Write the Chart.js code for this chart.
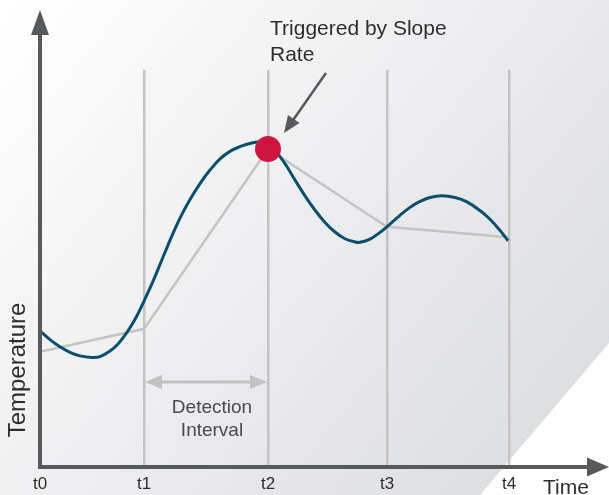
<!DOCTYPE html>
<html>
<head>
<meta charset="utf-8">
<script src="https://cdn.jsdelivr.net/npm/chart.js@4/dist/chart.umd.min.js"></script>
<style>
  html, body { margin: 0; padding: 0; background: #fff; }
  #wrap { width: 609px; height: 495px; }
</style>
</head>
<body>
<div id="wrap"><canvas id="myChart"></canvas></div>
<script>
// time positions of the sample ticks (t0..t4)
var tickTimes = [0, 1.04, 2.28, 3.47, 4.69];
var tickLabels = ['t0', 't1', 't2', 't3', 't4'];

// the real temperature curve
var curveTime = [0, 0.1, 0.2, 0.3, 0.4, 0.52, 0.6, 0.7, 0.78, 0.85, 0.92, 0.98, 1.04, 1.12, 1.2, 1.28, 1.35, 1.42, 1.5, 1.6, 1.7, 1.8, 1.9, 2.0, 2.1, 2.22,
  2.28, 2.35, 2.45, 2.55, 2.65, 2.75, 2.85, 2.95, 3.05, 3.15, 3.2, 3.3, 3.4, 3.5, 3.6, 3.7, 3.8, 3.9, 4.02, 4.15, 4.27, 4.4, 4.5, 4.6, 4.68];
var curveTemp = [34.3, 32.1, 30.3, 28.9, 28.0, 27.6, 27.8, 29.2, 31.0, 33.2, 35.9, 38.6, 41.8, 46.2, 51.0, 55.9, 60.0, 63.7, 67.4, 71.4, 74.8, 77.6, 79.5, 80.7, 81.5, 81.9,
  81.3, 79.8, 76.4, 72.3, 68.3, 64.7, 61.6, 59.2, 57.5, 56.7, 56.6, 57.4, 59.1, 61.2, 63.4, 65.4, 66.9, 67.9, 68.3, 67.9, 66.8, 64.6, 62.4, 59.6, 57.0];

// readings taken at each tick
var sampledTemp = [29.0, 34.8, 80.1, 60.5, 57.9];

// where the slope rate alarm fired
var triggerTime = 2.28;
var triggerTemp = 80.1;

var axisColor = '#58595b';
var textColor = '#2e2e2e';
var font = '"Liberation Sans", Arial, sans-serif';

let xy = (xs, ys) => xs.map((x, i) => ({ x: x, y: ys[i] }));

let arrowHead = (c, tx, ty, angle, len, half) => {
  c.beginPath();
  c.moveTo(tx, ty);
  c.lineTo(tx - len * Math.cos(angle) + half * Math.sin(angle), ty - len * Math.sin(angle) - half * Math.cos(angle));
  c.lineTo(tx - len * Math.cos(angle) - half * Math.sin(angle), ty - len * Math.sin(angle) + half * Math.cos(angle));
  c.closePath();
  c.fill();
};

var decor = {
  id: 'decor',
  beforeDraw: (chart) => {
    let c = chart.ctx;
    let W = chart.width, H = chart.height;
    c.save();
    c.fillStyle = '#fff';
    c.fillRect(0, 0, W, H);
    let g = c.createLinearGradient(0, 0, W, H);
    g.addColorStop(0, '#ffffff');
    g.addColorStop(1, '#d9dadc');
    c.fillStyle = g;
    c.beginPath();
    c.moveTo(0, 0);
    c.lineTo(W, 0);
    c.lineTo(W, 343);
    c.lineTo(480, H);
    c.lineTo(0, H);
    c.closePath();
    c.fill();
    c.restore();
  },
  afterDraw: (chart) => {
    let c = chart.ctx;
    let a = chart.chartArea;
    let xs = chart.scales.x;
    let ys = chart.scales.y;
    c.save();

    // axes with arrows
    c.strokeStyle = axisColor;
    c.fillStyle = axisColor;
    c.lineWidth = 4;
    c.beginPath();
    c.moveTo(a.left, a.bottom + 2);
    c.lineTo(a.left, 34);
    c.moveTo(a.left - 2, a.bottom);
    c.lineTo(590, a.bottom);
    c.stroke();
    arrowHead(c, a.left, 10, -Math.PI / 2, 25, 9);
    arrowHead(c, 609, a.bottom, 0, 22, 9.5);

    // axis titles
    c.fillStyle = textColor;
    c.font = '21px ' + font;
    c.textAlign = 'left';
    c.textBaseline = 'alphabetic';
    c.fillText('Time', 543, 494);
    c.save();
    c.translate(25, 370);
    c.rotate(-Math.PI / 2);
    c.textAlign = 'center';
    c.font = '24px ' + font;
    c.fillText('Temperature', 0, 0);
    c.restore();

    // detection interval
    let x1 = xs.getPixelForValue(tickTimes[1]);
    let x2 = xs.getPixelForValue(tickTimes[2]);
    let yi = 382;
    c.strokeStyle = '#c2c2c2';
    c.fillStyle = '#c2c2c2';
    c.lineWidth = 3;
    c.beginPath();
    c.moveTo(x1 + 10, yi);
    c.lineTo(x2 - 10, yi);
    c.stroke();
    arrowHead(c, x1 + 1, yi, Math.PI, 17, 7);
    arrowHead(c, x2 - 1, yi, 0, 17, 7);
    c.fillStyle = '#4a4a4a';
    c.font = '19px ' + font;
    c.textAlign = 'center';
    c.fillText('Detection', (x1 + x2) / 2 + 6, 413);
    c.fillText('Interval', (x1 + x2) / 2 + 6, 436);

    // callout
    let px = xs.getPixelForValue(triggerTime);
    let py = ys.getPixelForValue(triggerTemp);
    c.strokeStyle = axisColor;
    c.fillStyle = axisColor;
    c.lineWidth = 2.5;
    let tx = px + 16, ty = py - 16;
    let ang = Math.atan2(ty - 73, tx - 326);
    c.beginPath();
    c.moveTo(326, 73);
    c.lineTo(tx - 12 * Math.cos(ang), ty - 12 * Math.sin(ang));
    c.stroke();
    arrowHead(c, tx, ty, ang, 17, 7);
    c.fillStyle = textColor;
    c.font = '21px ' + font;
    c.textAlign = 'left';
    c.fillText('Triggered by Slope', 270, 35);
    c.fillText('Rate', 270, 61);

    c.restore();
  }
};

var ctx = document.getElementById('myChart');
var myChart = new Chart(ctx, {
  type: 'line',
  data: {
    datasets: [
      {
        label: 'Trigger',
        data: [{ x: triggerTime, y: triggerTemp }],
        showLine: false,
        pointRadius: 13,
        pointBackgroundColor: '#cc1540',
        pointBorderWidth: 0
      },
      {
        label: 'Temperature',
        data: xy(curveTime, curveTemp),
        borderColor: '#0b4f6c',
        borderWidth: 3,
        pointRadius: 0,
        tension: 0.4,
        fill: false
      },
      {
        label: 'Sampled',
        data: xy(tickTimes, sampledTemp),
        borderColor: '#c4c4c4',
        borderWidth: 2.5,
        pointRadius: 0,
        tension: 0,
        fill: false
      }
    ]
  },
  options: {
    responsive: true,
    maintainAspectRatio: false,
    animation: false,
    layout: { padding: { left: 40, right: 100, top: 70, bottom: 0 } },
    plugins: { legend: { display: false }, tooltip: { enabled: false } },
    scales: {
      x: {
        type: 'linear',
        min: tickTimes[0],
        max: tickTimes[tickTimes.length - 1],
        afterBuildTicks: (s) => { s.ticks = tickTimes.map((v) => ({ value: v })); },
        afterFit: (s) => { s.height = 28; },
        ticks: {
          autoSkip: false,
          maxRotation: 0,
          padding: 7,
          color: textColor,
          font: { size: 17, family: font },
          callback: (v) => tickLabels[tickTimes.indexOf(v)]
        },
        grid: { color: '#c4c4c4', lineWidth: 2.5, drawTicks: false },
        border: { display: false }
      },
      y: {
        display: false,
        min: 0,
        max: 100
      }
    }
  },
  plugins: [decor]
});
</script>
</body>
</html>
